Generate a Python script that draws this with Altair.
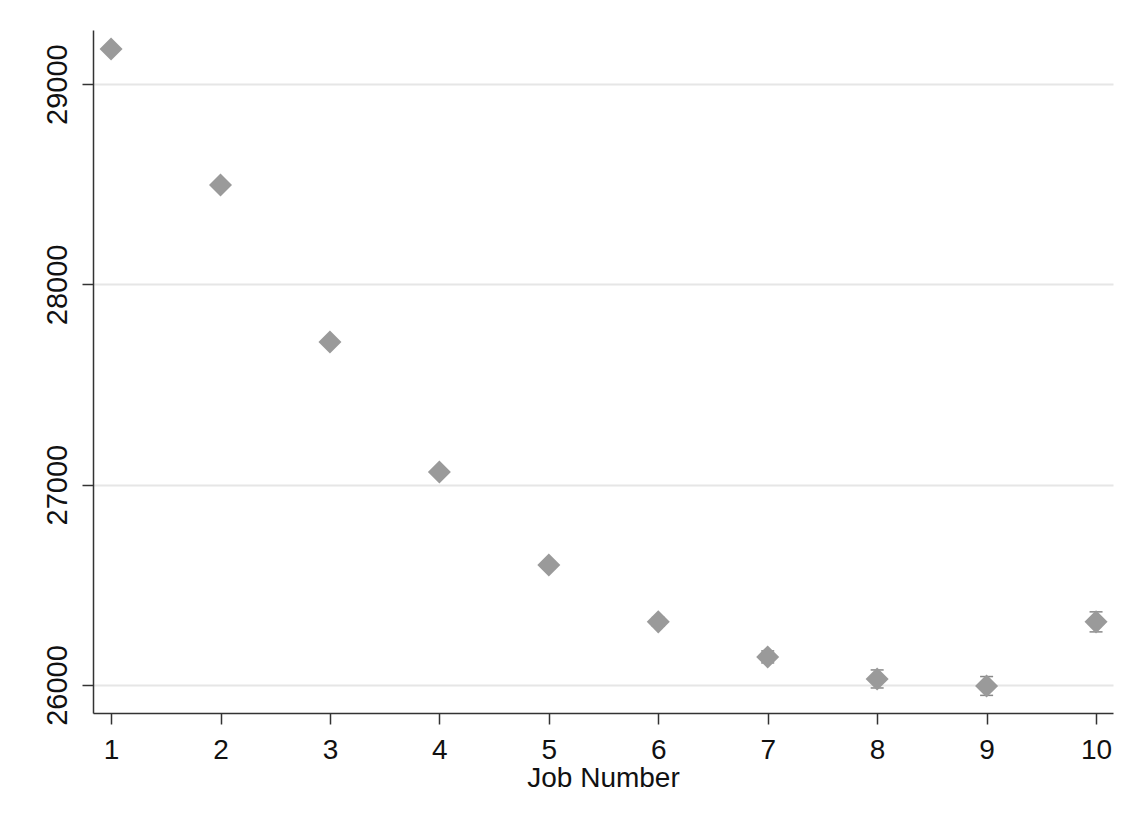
import altair as alt
import pandas as pd

job = [1, 2, 3, 4, 5, 6, 7, 8, 9, 10]
earnings = [29175, 28496, 27712, 27063, 26599, 26315, 26140, 26030, 25995, 26315]
ci_half = [12, 12, 14, 15, 18, 22, 30, 45, 47, 50]
y_ticks = [26000, 27000, 28000, 29000]

df = pd.DataFrame({
    "job": job,
    "value": earnings,
    "lo": [v - h for v, h in zip(earnings, ci_half)],
    "hi": [v + h for v, h in zip(earnings, ci_half)],
})

FONT = "Liberation Sans"
xscale = alt.Scale(domain=[0.835, 10.155], nice=False, zero=False)
yscale = alt.Scale(domain=[25860, 29270], nice=False, zero=False)

xaxis = alt.Axis(values=job, title="Job Number", grid=False, labelFont=FONT,
                 labelFontSize=28, labelColor="#111", labelPadding=12,
                 titleFont=FONT, titleFontSize=28, titleFontWeight="normal",
                 titleColor="#111", titlePadding=0, tickSize=11, format="d")
yaxis = alt.Axis(values=y_ticks, title=None, grid=True, gridColor="#e6e6e6",
                 gridWidth=2, labelAngle=270, labelAlign="center",
                 labelBaseline="alphabetic", labelFont=FONT, labelFontSize=29,
                 labelColor="#111", labelPadding=16, tickSize=11, format="d")

base = alt.Chart(df)

rule = base.mark_rule(color="#555", strokeWidth=1.5).encode(
    x=alt.X("job:Q", scale=xscale, axis=xaxis),
    y=alt.Y("lo:Q", scale=yscale, axis=yaxis),
    y2="hi:Q",
)
cap_lo = base.mark_tick(orient="horizontal", size=13, thickness=1.5, color="#555").encode(
    x=alt.X("job:Q", scale=xscale), y=alt.Y("lo:Q", scale=yscale))
cap_hi = base.mark_tick(orient="horizontal", size=13, thickness=1.5, color="#555").encode(
    x=alt.X("job:Q", scale=xscale), y=alt.Y("hi:Q", scale=yscale))
pts = base.mark_point(shape="diamond", filled=True, size=530, color="#9a9a9a", opacity=1).encode(
    x=alt.X("job:Q", scale=xscale), y=alt.Y("value:Q", scale=yscale))

chart = alt.layer(rule, cap_lo, cap_hi, pts).properties(
    width=1020, height=683,
    autosize=alt.AutoSizeParams(type="none"),
    padding={"left": 85, "top": 22, "right": 10, "bottom": 90},
    background="white",
).configure_view(stroke=None).configure_axis(
    domainColor="#333", domainWidth=1.5, tickColor="#333", tickWidth=1.5,
)

chart.save("out.html", embed_options={"renderer": "svg", "actions": False})
